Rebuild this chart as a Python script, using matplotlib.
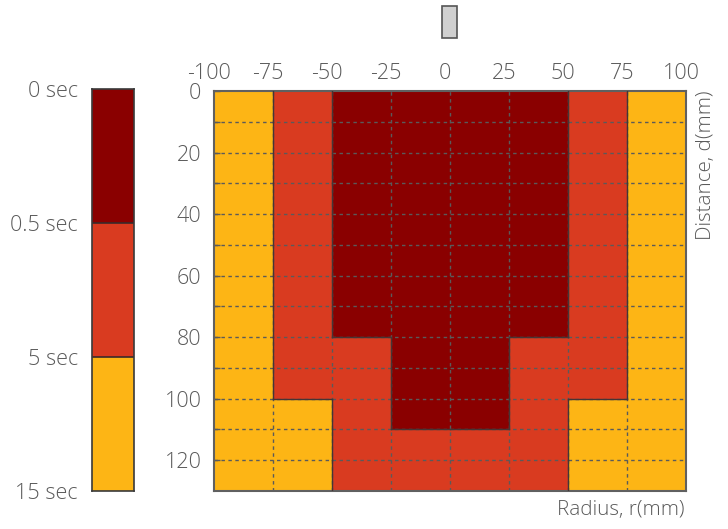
import numpy as np
import matplotlib.pyplot as plt
import matplotlib.transforms as mtransforms
from matplotlib.colors import ListedColormap, BoundaryNorm
from matplotlib.patches import Rectangle

plt.rcParams['font.family'] = ['Open Sans', 'DejaVu Sans']
plt.rcParams['font.weight'] = 'light'

# radius bin edges (mm) and distance bin edges (mm)
r_edges = [-100, -75, -50, -25, 0, 25, 50, 75, 100]
d_edges = [0, 10, 20, 30, 40, 50, 60, 70, 80, 90, 100, 110, 120, 130]

# time class per cell: 0 = 0-0.5 sec, 1 = 0.5-5 sec, 2 = 5-15 sec
grid_rows = [
    [2, 1, 0, 0, 0, 0, 1, 2],  # 0-10
    [2, 1, 0, 0, 0, 0, 1, 2],
    [2, 1, 0, 0, 0, 0, 1, 2],
    [2, 1, 0, 0, 0, 0, 1, 2],
    [2, 1, 0, 0, 0, 0, 1, 2],
    [2, 1, 0, 0, 0, 0, 1, 2],
    [2, 1, 0, 0, 0, 0, 1, 2],
    [2, 1, 0, 0, 0, 0, 1, 2],  # 70-80
    [2, 1, 1, 0, 0, 1, 1, 2],
    [2, 1, 1, 0, 0, 1, 1, 2],  # 90-100
    [2, 2, 1, 0, 0, 1, 2, 2],
    [2, 2, 1, 1, 1, 1, 2, 2],
    [2, 2, 1, 1, 1, 1, 2, 2],  # 120-130
]

class_labels = ["0 sec", "0.5 sec", "5 sec", "15 sec"]
class_colors = ["#8a0000", "#d93b20", "#fdb515"]

text_col = "#5a5a5a"
edge_col = "#5a5a5a"

cmap = ListedColormap(class_colors)
norm = BoundaryNorm([-0.5, 0.5, 1.5, 2.5], cmap.N)
Z = np.array(grid_rows)

fig = plt.figure(figsize=(7.28, 5.29), dpi=100)
ax = fig.add_axes([214 / 728, 1 - 491 / 529, 472 / 728, 400 / 529])
cax = fig.add_axes([92 / 728, 1 - 491 / 529, 42 / 728, 402 / 529])

ax.pcolormesh(r_edges, d_edges, Z, cmap=cmap, norm=norm)
ax.set_xlim(r_edges[0], r_edges[-1])
ax.set_ylim(d_edges[-1], d_edges[0])

# dashed grid on every cell boundary
for x in r_edges[1:-1]:
    ax.axvline(x, color=edge_col, lw=1, ls=(0, (2.5, 2.5)), zorder=2)
for y in d_edges[1:-1]:
    ax.axhline(y, color=edge_col, lw=1, ls=(0, (2.5, 2.5)), zorder=2)

# darker outline where the time class changes
for i in range(Z.shape[0]):
    for j in range(Z.shape[1]):
        if j + 1 < Z.shape[1] and Z[i, j] != Z[i, j + 1]:
            ax.plot([r_edges[j + 1]] * 2, [d_edges[i], d_edges[i + 1]],
                    color="#453535", lw=1.0, zorder=3)
        if i + 1 < Z.shape[0] and Z[i, j] != Z[i + 1, j]:
            ax.plot([r_edges[j], r_edges[j + 1]], [d_edges[i + 1]] * 2,
                    color="#453535", lw=1.0, zorder=3)

ax.xaxis.tick_top()
ax.set_xticks(r_edges)
ax.set_xticklabels([str(v) for v in r_edges])
ax.set_yticks(d_edges[:-1:2])
ax.set_yticks(d_edges[1:-1:2], minor=True)
ax.tick_params(axis='x', length=0, pad=5, labelsize=15.5, colors=text_col)
ax.tick_params(axis='y', which='both', direction='in', length=4, width=1,
               pad=9, labelsize=15.5, colors=text_col)
ax.tick_params(axis='y', which='minor', labelleft=False)
shift = mtransforms.ScaledTranslation(-5 / 100, 0, fig.dpi_scale_trans)
for lab in ax.get_xticklabels():
    lab.set_transform(lab.get_transform() + shift)
for s in ax.spines.values():
    s.set_color("#606060")
    s.set_linewidth(1.5)

# axis titles
ax.text(1.043, 1.0, "Distance, d(mm)", transform=ax.transAxes, rotation=90,
        ha="center", va="top", fontsize=14.8, color=text_col)
ax.text(0.997, -0.022, "Radius, r(mm)", transform=ax.transAxes,
        ha="right", va="top", fontsize=14.8, color=text_col)

# legend bar
levels = np.arange(len(class_colors))
cax.pcolormesh([0, 1], np.arange(len(class_colors) + 1), levels.reshape(-1, 1),
               cmap=cmap, norm=norm)
for b in range(1, len(class_colors)):
    cax.axhline(b, color="#3a2a2a", lw=1.2)
cax.set_xlim(0, 1)
cax.set_ylim(len(class_colors), 0)
cax.set_xticks([])
cax.set_yticks(np.arange(len(class_labels)))
cax.set_yticklabels(class_labels)
cax.tick_params(axis='y', length=0, pad=10, labelsize=15.5, colors=text_col)
for s in cax.spines.values():
    s.set_color("#3a3a3a")
    s.set_linewidth(1.2)

# small gray box above the plot
fig.patches.append(Rectangle((442 / 728, 1 - 38 / 529), 15 / 728, 32 / 529,
                             transform=fig.transFigure, facecolor="#d0d0d0",
                             edgecolor="#555555", lw=1.2))

fig.savefig("out.png", dpi=100)
